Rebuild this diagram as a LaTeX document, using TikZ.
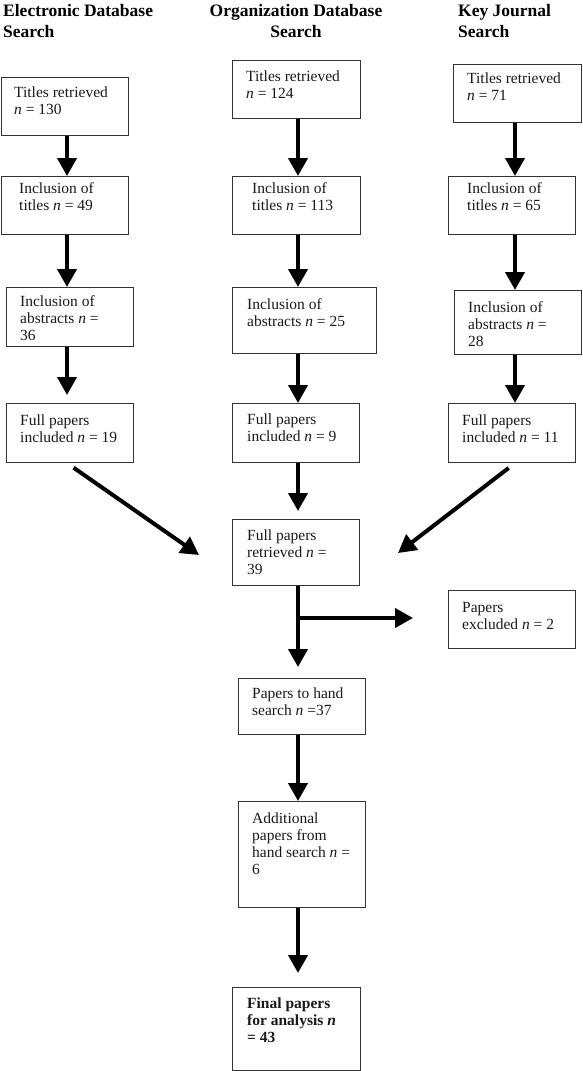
\documentclass[tikz,border=0pt]{standalone}
\usepackage{fontspec}
\setmainfont{Liberation Serif}
\usetikzlibrary{arrows.meta,calc}
\tikzset{
  box/.style={draw=black!80, line width=1.1pt, rectangle, inner sep=0pt, anchor=north west},
  txt/.style={anchor=base west, inner sep=0pt, text=black!90, font=\fontsize{15.5}{17.3}\selectfont},
  head/.style={inner sep=0pt, text=black, font=\bfseries\fontsize{17.5}{21}\selectfont},
  arr/.style={line width=4pt, draw=black, -{Triangle[length=18pt,width=19pt]}}
}
\newcommand\bx[5]{\node[box, minimum width=#4pt, minimum height=#5pt] (#1) at (#2,#3) {};}
\newcommand\tl[1]{\begin{tabular}[t]{@{}l@{}}#1\end{tabular}}
\newcommand\tc[1]{\begin{tabular}[t]{@{}c@{}}#1\end{tabular}}
\begin{document}
\begin{tikzpicture}[x=1pt,y=-1pt]
\useasboundingbox (0,0) rectangle (583,1071);
% headings
\node[head, anchor=base west] (hL) at (3,16) {\tl{Electronic Database\\Search}};
\node[head, anchor=base] (hM) at (296,16) {\tc{Organization Database\\Search}};
\node[head, anchor=base west] (hR) at (458,16) {\tl{Key Journal\\Search}};
% boxes
\bx{L1}{1}{77}{127}{58}
\bx{L2}{1}{176}{127}{58}
\bx{L3}{6}{287}{127}{59}
\bx{L4}{6}{403}{127}{59}
\bx{M1}{232}{60}{128}{58}
\bx{M2}{232}{176}{128}{58}
\bx{M3}{232}{287}{144}{66}
\bx{M4}{232}{403}{127}{59}
\bx{M5}{232}{519}{127}{66}
\bx{R1}{453}{64}{128}{58}
\bx{R2}{448}{176}{127}{58}
\bx{R3}{454}{290}{127}{64}
\bx{R4}{448}{403}{127}{59}
\bx{X}{448}{590}{127}{58}
\bx{H}{238}{678}{127}{56}
\bx{A}{238}{801}{127}{106}
\bx{F}{232}{987}{128}{83}
% texts
\node[txt] (L1t) at (14,97) {\tl{Titles retrieved\\\textit{n} = 130}};
\node[txt] (L2t) at (19,193) {\tl{Inclusion of\\titles \textit{n} = 49}};
\node[txt] (L3t) at (20,306) {\tl{Inclusion of\\abstracts \textit{n} =\\36}};
\node[txt] (L4t) at (20,425) {\tl{Full papers\\included \textit{n} = 19}};
\node[txt] (M1t) at (246,81) {\tl{Titles retrieved\\\textit{n} = 124}};
\node[txt] (M2t) at (252,193) {\tl{Inclusion of\\titles \textit{n} = 113}};
\node[txt] (M3t) at (247,309) {\tl{Inclusion of\\abstracts \textit{n} = 25}};
\node[txt] (M4t) at (247,424) {\tl{Full papers\\included \textit{n} = 9}};
\node[txt] (M5t) at (247,540) {\tl{Full papers\\retrieved \textit{n} =\\39}};
\node[txt] (R1t) at (467,83) {\tl{Titles retrieved\\\textit{n} = 71}};
\node[txt] (R2t) at (467,193) {\tl{Inclusion of\\titles \textit{n} = 65}};
\node[txt] (R3t) at (468,312) {\tl{Inclusion of\\abstracts \textit{n} =\\28}};
\node[txt] (R4t) at (462,425) {\tl{Full papers\\included \textit{n} = 11}};
\node[txt] (Xt) at (462,612) {\tl{Papers\\excluded \textit{n} = 2}};
\node[txt] (Ht) at (252,698) {\tl{Papers to hand\\search \textit{n} =37}};
\node[txt] (At) at (252,823) {\tl{Additional\\papers from\\hand search \textit{n} =\\6}};
\node[txt, font=\bfseries\fontsize{15.5}{17.3}\selectfont] (Ft) at (247,1008) {\tl{Final papers\\for analysis \textit{n}\\= 43}};
% arrow columns
\coordinate (xL) at (67,0);
\coordinate (xM) at (298,0);
\coordinate (xR) at (515,0);
\coordinate (dLe) at (199,555);
\coordinate (dRe) at (398,553);
\coordinate (br) at (298,618);
% arrows
\draw[arr] (L1.south -| xL) -- (L2.north -| xL);
\draw[arr] (L2.south -| xL) -- (L3.north -| xL);
\draw[arr, shorten >=8pt] (L3.south -| xL) -- (L4.north -| xL);
\draw[arr] (M1.south -| xM) -- (M2.north -| xM);
\draw[arr] (M2.south -| xM) -- (M3.north -| xM);
\draw[arr] (M3.south -| xM) -- (M4.north -| xM);
\draw[arr, shorten >=8pt] (M4.south -| xM) -- (M5.north -| xM);
\draw[arr] (R1.south -| xR) -- (R2.north -| xR);
\draw[arr] (R2.south -| xR) -- (R3.north -| xR);
\draw[arr] (R3.south -| xR) -- (R4.north -| xR);
\draw[arr, shorten <=8pt] (L4.south -| xL) -- (dLe);
\draw[arr, shorten <=8pt] (R4.south -| xR) -- (dRe);
\draw[arr, shorten >=11pt] (M5.south -| xM) -- (H.north -| xM);
\draw[arr, shorten >=35pt] (br) -- (X.west |- br);
\draw[arr] (H.south -| xM) -- (A.north -| xM);
\draw[arr, shorten >=14pt] (A.south -| xM) -- (F.north -| xM);
\end{tikzpicture}
\end{document}
